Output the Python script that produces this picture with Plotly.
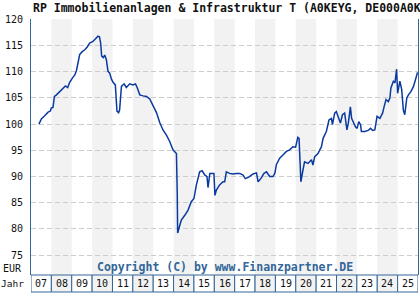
import plotly.graph_objects as go

title_text = "RP Immobilienanlagen & Infrastruktur T (A0KEYG, DE000A0KEYG)"
copyright_text = "Copyright (C) by www.Finanzpartner.DE"
year_labels = ["07", "08", "09", "10", "11", "12", "13", "14", "15", "16",
               "17", "18", "19", "20", "21", "22", "23", "24", "25"]
first_year = 2007
y_ticks = [75, 80, 85, 90, 95, 100, 105, 110, 115, 120]

t = [2007.39, 2007.51, 2007.67, 2007.84, 2007.95, 2008.00, 2008.08, 2008.15, 2008.25, 2008.41,
     2008.57, 2008.69, 2008.80, 2008.90, 2009.03, 2009.15, 2009.23, 2009.31, 2009.39, 2009.50,
     2009.64, 2009.75, 2009.88, 2010.04, 2010.18, 2010.29, 2010.36, 2010.42, 2010.47, 2010.55,
     2010.62, 2010.70, 2010.78, 2010.86, 2010.95, 2011.03, 2011.14, 2011.19, 2011.22, 2011.30,
     2011.35, 2011.44, 2011.57, 2011.68, 2011.85, 2012.00, 2012.13, 2012.22, 2012.34, 2012.50,
     2012.67, 2012.83, 2013.00, 2013.16, 2013.32, 2013.48, 2013.65, 2013.81, 2013.97, 2014.14,
     2014.18, 2014.20, 2014.30, 2014.38, 2014.55, 2014.71, 2014.87, 2015.00, 2015.12, 2015.28,
     2015.40, 2015.53, 2015.64, 2015.69, 2015.78, 2015.86, 2015.98, 2016.03, 2016.10, 2016.26,
     2016.43, 2016.51, 2016.59, 2016.75, 2016.92, 2017.08, 2017.25, 2017.41, 2017.52, 2017.69,
     2017.90, 2018.07, 2018.15, 2018.28, 2018.44, 2018.56, 2018.72, 2018.88, 2018.97, 2019.05,
     2019.21, 2019.37, 2019.54, 2019.70, 2019.86, 2019.99, 2020.10, 2020.16, 2020.19, 2020.25,
     2020.35, 2020.43, 2020.60, 2020.77, 2020.84, 2020.93, 2021.09, 2021.26, 2021.34, 2021.50,
     2021.63, 2021.75, 2021.80, 2021.91, 2021.99, 2022.11, 2022.19, 2022.29, 2022.40, 2022.51,
     2022.58, 2022.68, 2022.74, 2022.81, 2022.93, 2023.01, 2023.09, 2023.18, 2023.22, 2023.39,
     2023.55, 2023.67, 2023.77, 2023.88, 2023.93, 2023.99, 2024.13, 2024.26, 2024.34, 2024.43,
     2024.54, 2024.62, 2024.67, 2024.79, 2024.87, 2024.95, 2025.00, 2025.11, 2025.20, 2025.28,
     2025.35, 2025.45, 2025.53, 2025.65, 2025.78, 2025.87, 2025.98]

price = [100.0, 101.0, 101.6, 102.3, 102.5, 103.1, 103.2, 105.3, 105.6, 106.2,
         106.9, 107.3, 107.0, 108.0, 108.8, 109.4, 110.2, 112.1, 113.3, 113.8,
         114.2, 114.7, 115.5, 115.8, 116.3, 116.8, 116.7, 115.5, 113.0, 112.7,
         113.2, 112.3, 110.1, 109.8, 108.6, 108.0, 107.5, 105.0, 102.5, 102.2,
         102.7, 107.2, 107.7, 107.0, 107.7, 107.5, 107.7, 106.9, 105.6, 105.4,
         105.3, 104.8, 103.4, 102.2, 100.3, 98.9, 97.9, 96.7, 95.1, 94.4,
         86.8, 79.2, 80.6, 81.7, 82.6, 83.6, 85.2, 85.8, 88.4, 90.9,
         91.1, 90.3, 90.0, 87.9, 90.6, 90.6, 90.6, 86.4, 87.4, 88.4,
         89.0, 89.0, 90.9, 90.6, 90.5, 90.6, 90.6, 90.3, 89.6, 89.9,
         90.5, 90.7, 89.0, 89.6, 90.6, 90.9, 90.0, 90.0, 90.6, 92.3,
         93.5, 94.1, 94.8, 95.1, 95.7, 95.6, 97.5, 97.3, 93.2, 89.0,
         91.2, 92.8, 92.5, 93.2, 92.2, 93.8, 94.4, 95.7, 97.3, 98.6,
         100.8, 101.1, 99.9, 102.1, 102.4, 101.1, 100.2, 101.8, 102.1, 98.9,
         100.2, 103.3, 101.1, 100.5, 99.5, 99.2, 100.5, 99.9, 98.6, 98.6,
         98.8, 99.2, 98.8, 98.9, 99.9, 101.5, 101.1, 102.1, 103.4, 104.7,
         104.3, 105.0, 106.9, 108.2, 107.9, 110.5, 105.9, 108.2, 106.6, 102.7,
         101.8, 105.0, 105.6, 106.2, 107.2, 108.5, 109.9]

axis_blue = "#336699"
shade = "#f2f2f2"
mono = "DejaVu Sans Mono"

n_years = len(year_labels)
last_year = first_year + n_years
strip_h = 17 / 256.0

fig = go.Figure()
fig.add_trace(go.Scatter(x=t, y=price, mode="lines",
                         line=dict(color="#0a3aa0", width=1.5),
                         hoverinfo="skip", showlegend=False))

shapes = []
for i, lab in enumerate(year_labels):
    y0 = first_year + i
    even = (i % 2 == 1)
    if even:
        shapes.append(dict(type="rect", xref="x", yref="paper", x0=y0, x1=y0 + 1,
                           y0=0, y1=1, fillcolor=shade, line=dict(width=0), layer="below"))
    shapes.append(dict(type="rect", xref="x", yref="paper", x0=y0, x1=y0 + 1,
                       y0=-strip_h, y1=0, fillcolor=shade if even else "white",
                       line=dict(color=axis_blue, width=1), layer="above"))

annotations = [
    dict(text="<b>" + title_text + "</b>", xref="paper", yref="paper", x=0, y=1,
         xanchor="left", yanchor="bottom", yshift=2, showarrow=False,
         font=dict(family=mono, size=11.5, color="#111111")),
    dict(text="<b>" + copyright_text + "</b>", xref="paper", yref="paper", x=0.5, y=0,
         xanchor="center", yanchor="bottom", yshift=-1, showarrow=False,
         font=dict(family=mono, size=11.5, color=axis_blue)),
    dict(text="EUR", xref="paper", yref="paper", x=0, y=0, xanchor="right",
         yanchor="middle", xshift=-7, yshift=7, showarrow=False,
         font=dict(family=mono, size=10, color="#111111")),
    dict(text="Jahr", xref="paper", yref="paper", x=0, y=-strip_h / 2, xanchor="right",
         yanchor="middle", xshift=-5, showarrow=False,
         font=dict(family=mono, size=9.5, color="#111111")),
]
for i, lab in enumerate(year_labels):
    annotations.append(dict(text=lab, xref="x", yref="paper", x=first_year + i + 0.5,
                            y=-strip_h / 2, xanchor="center", yanchor="middle",
                            showarrow=False, font=dict(family=mono, size=10, color="#111111")))

fig.update_layout(
    width=420, height=300,
    margin=dict(l=31, r=2, t=19, b=25),
    paper_bgcolor="white", plot_bgcolor="white",
    shapes=shapes, annotations=annotations,
    xaxis=dict(range=[first_year, last_year], showgrid=False, showticklabels=False,
               zeroline=False, showline=False, fixedrange=True),
    yaxis=dict(range=[71.2, 120.08], tickvals=y_ticks, showgrid=True,
               gridcolor="#cccccc", griddash="5px,3px", gridwidth=1,
               zeroline=False, showline=True, linecolor=axis_blue, linewidth=1,
               mirror=True, ticks="", ticklabelstandoff=5,
               tickfont=dict(family=mono, size=10, color="#111111")),
    font=dict(family=mono),
)

fig.write_html("out.html", config=dict(displayModeBar=False))
